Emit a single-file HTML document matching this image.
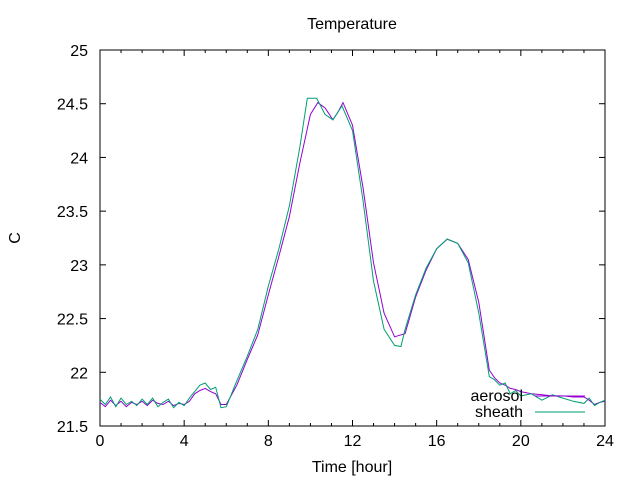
<!DOCTYPE html>
<html><head><meta charset="utf-8"><style>
body{margin:0;background:#fff}
svg text{font-family:"Liberation Sans",sans-serif;font-size:16px;fill:#000}
</style></head><body>
<svg width="640" height="480" viewBox="0 0 640 480">
<rect x="0" y="0" width="640" height="480" fill="#fff"/>
<g id="axes"></g>
<g id="series"></g>
<text x="352" y="29" text-anchor="middle">Temperature</text>
<text x="352" y="472" text-anchor="middle">Time [hour]</text>
<text x="20" y="238" text-anchor="middle" transform="rotate(-90 20 238)">C</text>
<g>
<text x="523" y="401" text-anchor="end">aerosol</text>
<line x1="535" y1="396" x2="585" y2="396" stroke="#9400d3" stroke-width="1"/>
<text x="523" y="417" text-anchor="end">sheath</text>
<line x1="535" y1="412" x2="585" y2="412" stroke="#009e73" stroke-width="1"/>
</g>
</svg>
<script>
const xTicks=[0,4,8,12,16,20,24];
const yTicks=[21.5,22,22.5,23,23.5,24,24.5,25];
const yTickLabels=["21.5","22","22.5","23","23.5","24","24.5","25"];
const aerosolHours=[0,0.25,0.5,0.75,1,1.25,1.5,1.75,2,2.25,2.5,2.75,3,3.25,3.5,3.75,4,4.25,4.5,4.75,5,5.25,5.5,5.75,6,6.5,7,7.5,8,8.5,9,9.5,10,10.35,10.7,11.07,11.3,11.55,12,12.5,13,13.5,14,14.5,15,15.5,16,16.5,17,17.5,18,18.5,18.75,19,19.25,19.5,19.75,20,20.5,21,21.5,22,22.5,23,23.25,23.5,23.75,24];
const aerosolValues=[21.72,21.68,21.74,21.69,21.73,21.68,21.72,21.70,21.73,21.69,21.74,21.71,21.70,21.73,21.69,21.71,21.70,21.73,21.80,21.83,21.85,21.82,21.80,21.70,21.70,21.88,22.12,22.35,22.72,23.08,23.45,23.95,24.40,24.51,24.46,24.35,24.42,24.51,24.30,23.72,23.02,22.55,22.33,22.36,22.70,22.95,23.15,23.24,23.20,23.05,22.65,22.02,21.95,21.90,21.88,21.85,21.84,21.82,21.80,21.79,21.78,21.78,21.77,21.77,21.74,21.70,21.72,21.73];
const sheathHours=[0,0.25,0.5,0.75,1,1.25,1.5,1.75,2,2.25,2.5,2.75,3,3.25,3.5,3.75,4,4.25,4.5,4.75,5,5.25,5.5,5.75,6,6.5,7,7.5,8,8.5,9,9.5,9.85,10.3,10.7,11.07,11.3,11.5,12,12.5,13,13.5,14,14.3,14.5,15,15.5,16,16.5,17,17.5,18,18.5,18.75,19,19.25,19.5,19.75,20,20.5,21,21.5,22,22.5,23,23.25,23.5,23.75,24];
const sheathValues=[21.75,21.70,21.77,21.68,21.76,21.70,21.73,21.69,21.75,21.70,21.76,21.68,21.72,21.75,21.67,21.72,21.69,21.76,21.82,21.88,21.90,21.84,21.86,21.67,21.68,21.92,22.15,22.40,22.80,23.15,23.55,24.10,24.55,24.55,24.40,24.35,24.42,24.48,24.25,23.60,22.85,22.40,22.25,22.24,22.40,22.72,22.97,23.15,23.24,23.20,23.02,22.55,21.96,21.93,21.88,21.90,21.80,21.83,21.78,21.80,21.74,21.79,21.76,21.73,21.71,21.76,21.69,21.72,21.74];
const X0=100,X1=605,Y0=426,Y1=50;
function xs(h){return X0+(h-0)/(24-0)*(X1-X0);}
function ys(v){return Y0-(v-21.5)/(25-21.5)*(Y0-Y1);}
const NS="http://www.w3.org/2000/svg";
const axes=document.getElementById('axes');
function mk(tag,attrs,parent){const e=document.createElementNS(NS,tag);for(const k in attrs)e.setAttribute(k,attrs[k]);parent.appendChild(e);return e;}
const frame=mk('rect',{x:X0,y:Y1,width:X1-X0,height:Y0-Y1,fill:'none',stroke:'#000','stroke-width':1},axes);


xTicks.forEach(t=>{
  const x=xs(t);
  const l1=mk('line',{x1:x,y1:Y0,x2:x,y2:Y0-6,stroke:'#000'},axes);
  
  
  const l2=mk('line',{x1:x,y1:Y1,x2:x,y2:Y1+6,stroke:'#000'},axes);
  
  
  const tx=mk('text',{x:x,y:Y0+20,'text-anchor':'middle'},axes);
  tx.textContent=String(t);
  
  
});
for(let t=1;t<24;t++){ if(t%4===0)continue;
  const x=xs(t);
  const m=mk('line',{x1:x,y1:Y0,x2:x,y2:Y0-3,stroke:'#000'},axes);
  
  
  const m2=mk('line',{x1:x,y1:Y1,x2:x,y2:Y1+3,stroke:'#000'},axes);
  
  
}
yTicks.forEach((t,i)=>{
  const y=ys(t);
  const l1=mk('line',{x1:X0,y1:y,x2:X0+6,y2:y,stroke:'#000'},axes);
  
  
  const l2=mk('line',{x1:X1,y1:y,x2:X1-6,y2:y,stroke:'#000'},axes);
  
  
  const tx=mk('text',{x:X0-12,y:y+6,'text-anchor':'end'},axes);
  tx.textContent=yTickLabels[i];
  
  
});
const ser=document.getElementById('series');
function line(hours,vals,color,name){
  const d=hours.map((h,i)=>(i?'L':'M')+xs(h).toFixed(1)+' '+ys(vals[i]).toFixed(1)).join(' ');
  const p=mk('path',{d:d,fill:'none',stroke:color,'stroke-width':1},ser);
  
  
}
line(aerosolHours,aerosolValues,'#9400d3','aerosol-line');
line(sheathHours,sheathValues,'#009e73','sheath-line');
</script>
</body></html>
